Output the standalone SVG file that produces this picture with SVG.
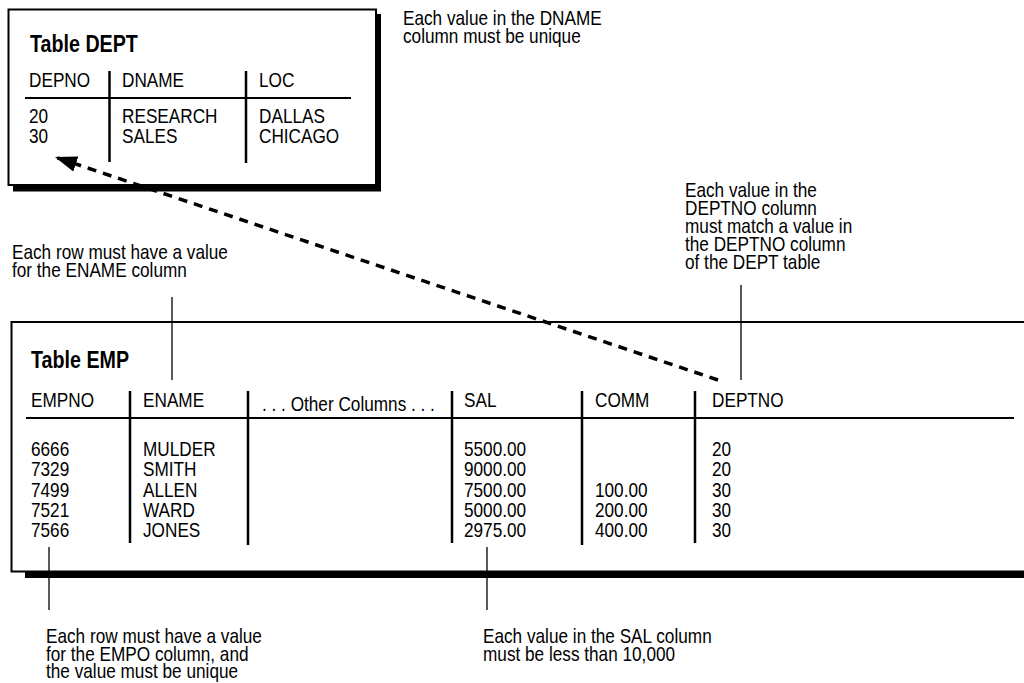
<svg xmlns="http://www.w3.org/2000/svg" width="1024" height="683" viewBox="0 0 1024 683">
<style>
.t{font-family:"Liberation Sans",Arial,sans-serif;font-size:20px;fill:#000}
.title{font-weight:bold;font-size:24px}
.frame{fill:#fff;stroke:#000;stroke-width:2}
.shadow{fill:#000}
.sep{stroke:#000;stroke-width:2.5}
.rule{stroke:#000;stroke-width:2}
.lead{stroke:#000;stroke-width:1.3}
.fk{stroke:#000;stroke-width:3.5;stroke-dasharray:9 7;fill:none}
</style>
<defs>
<marker id="ah" markerUnits="userSpaceOnUse" markerWidth="24" markerHeight="18" refX="22" refY="8" orient="auto">
<path d="M0,0 L22,8 L0,16 Z" fill="#000"/>
</marker>
</defs>
<rect width="1024" height="683" fill="#fff"/>

<g id="dept">
<rect class="shadow" x="13" y="14" width="368" height="177.5"/>
<rect class="frame" x="8.5" y="9.5" width="367.5" height="175.5"/>
<text class="t title" transform="translate(30 52) scale(.82 1)">Table DEPT</text>
<text class="t" transform="translate(29 87) scale(.86 1)">DEPNO</text>
<text class="t" transform="translate(122 87) scale(.86 1)">DNAME</text>
<text class="t" transform="translate(259 87) scale(.86 1)">LOC</text>
<line class="rule" x1="25" y1="98" x2="351" y2="98"/>
<line class="sep" x1="109.5" y1="71" x2="109.5" y2="162"/>
<line class="sep" x1="246" y1="71" x2="246" y2="163"/>
<text class="t" transform="translate(29 123) scale(.86 1)">20</text>
<text class="t" transform="translate(29 143) scale(.86 1)">30</text>
<text class="t" transform="translate(122 123) scale(.86 1)">RESEARCH</text>
<text class="t" transform="translate(122 143) scale(.86 1)">SALES</text>
<text class="t" transform="translate(259 123) scale(.86 1)">DALLAS</text>
<text class="t" transform="translate(259 143) scale(.86 1)">CHICAGO</text>
</g>

<g id="emp">
<rect class="shadow" x="25" y="572" width="1010" height="6"/>
<rect class="frame" x="11.5" y="322" width="1030" height="249.5"/>
<text class="t title" transform="translate(31 368) scale(.82 1)">Table EMP</text>
<text class="t" transform="translate(31 407) scale(.86 1)">EMPNO</text>
<text class="t" transform="translate(143 407) scale(.86 1)">ENAME</text>
<text class="t" transform="translate(262 411) scale(.86 1)">. . . Other Columns . . .</text>
<text class="t" transform="translate(464 407) scale(.86 1)">SAL</text>
<text class="t" transform="translate(595 407) scale(.86 1)">COMM</text>
<text class="t" transform="translate(712 407) scale(.86 1)">DEPTNO</text>
<line class="rule" x1="26" y1="418" x2="1014" y2="418"/>
<line class="sep" x1="130" y1="391" x2="130" y2="543"/>
<line class="sep" x1="248" y1="391" x2="248" y2="545"/>
<line class="sep" x1="452" y1="391" x2="452" y2="543"/>
<line class="sep" x1="582" y1="391" x2="582" y2="545"/>
<line class="sep" x1="695" y1="391" x2="695" y2="543"/>
<text class="t" transform="translate(31 456) scale(.86 1)">6666</text>
<text class="t" transform="translate(31 476.3) scale(.86 1)">7329</text>
<text class="t" transform="translate(31 496.6) scale(.86 1)">7499</text>
<text class="t" transform="translate(31 516.9) scale(.86 1)">7521</text>
<text class="t" transform="translate(31 537) scale(.86 1)">7566</text>
<text class="t" transform="translate(143 456) scale(.86 1)">MULDER</text>
<text class="t" transform="translate(143 476.3) scale(.86 1)">SMITH</text>
<text class="t" transform="translate(143 496.6) scale(.86 1)">ALLEN</text>
<text class="t" transform="translate(143 516.9) scale(.86 1)">WARD</text>
<text class="t" transform="translate(143 537) scale(.86 1)">JONES</text>
<text class="t" transform="translate(464 456) scale(.86 1)">5500.00</text>
<text class="t" transform="translate(464 476.3) scale(.86 1)">9000.00</text>
<text class="t" transform="translate(464 496.6) scale(.86 1)">7500.00</text>
<text class="t" transform="translate(464 516.9) scale(.86 1)">5000.00</text>
<text class="t" transform="translate(464 537) scale(.86 1)">2975.00</text>
<text class="t" transform="translate(595 496.6) scale(.86 1)">100.00</text>
<text class="t" transform="translate(595 516.9) scale(.86 1)">200.00</text>
<text class="t" transform="translate(595 537) scale(.86 1)">400.00</text>
<text class="t" transform="translate(712 456) scale(.86 1)">20</text>
<text class="t" transform="translate(712 476.3) scale(.86 1)">20</text>
<text class="t" transform="translate(712 496.6) scale(.86 1)">30</text>
<text class="t" transform="translate(712 516.9) scale(.86 1)">30</text>
<text class="t" transform="translate(712 537) scale(.86 1)">30</text>
</g>

<g id="note-dname">
<text class="t" transform="translate(403 25) scale(.86 1)">Each value in the DNAME</text>
<text class="t" transform="translate(403 43) scale(.86 1)">column must be unique</text>
</g>

<g id="note-deptno">
<text class="t" transform="translate(685 197) scale(.86 1)">Each value in the</text>
<text class="t" transform="translate(685 215) scale(.86 1)">DEPTNO column</text>
<text class="t" transform="translate(685 233) scale(.86 1)">must match a value in</text>
<text class="t" transform="translate(685 251) scale(.86 1)">the DEPTNO column</text>
<text class="t" transform="translate(685 269) scale(.86 1)">of the DEPT table</text>
</g>

<g id="note-ename">
<text class="t" transform="translate(12 259) scale(.86 1)">Each row must have a value</text>
<text class="t" transform="translate(12 277) scale(.86 1)">for the ENAME column</text>
</g>

<g id="note-empno">
<text class="t" transform="translate(46 643) scale(.86 1)">Each row must have a value</text>
<text class="t" transform="translate(46 660.5) scale(.86 1)">for the EMPO column, and</text>
<text class="t" transform="translate(46 678) scale(.86 1)">the value must be unique</text>
</g>

<g id="note-sal">
<text class="t" transform="translate(483 643) scale(.86 1)">Each value in the SAL column</text>
<text class="t" transform="translate(483 660.5) scale(.86 1)">must be less than 10,000</text>
</g>

<g id="connectors">
<line class="lead" x1="741" y1="285" x2="741" y2="380"/>
<line class="lead" x1="172" y1="297" x2="172" y2="380"/>
<line class="lead" x1="49" y1="547" x2="49" y2="610"/>
<line class="lead" x1="487" y1="547" x2="487" y2="610"/>
<line class="fk" x1="718" y1="380" x2="55" y2="157" marker-end="url(#ah)"/>
</g>
</svg>
